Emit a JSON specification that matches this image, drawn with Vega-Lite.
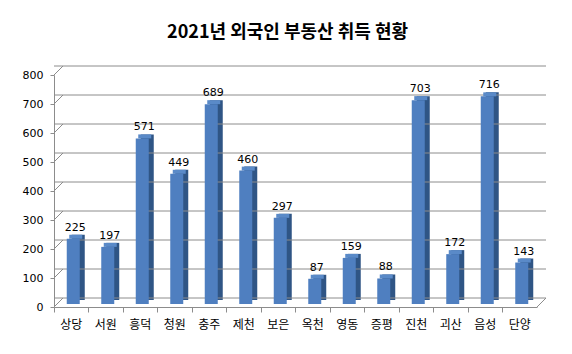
{
  "$schema": "https://vega.github.io/schema/vega-lite/v6.json",
  "width": 483,
  "height": 232,
  "autosize": {"type": "none"},
  "padding": {"left": 54, "top": 75, "right": 35, "bottom": 47},
  "background": "white",
  "config": {
    "view": {"stroke": null},
    "axisX": {
      "title": null,
      "labelAngle": 0,
      "labelFont": "Noto Sans CJK KR",
      "labelFontSize": 12,
      "labelColor": "#000000",
      "labelPadding": 7,
      "bandPosition": 0,
      "tickSize": 5,
      "tickColor": "#8c8c8c",
      "domainColor": "#8c8c8c",
      "grid": false,
      "labelOverlap": false
    },
    "axisY": {
      "title": null,
      "labelFont": "DejaVu Sans",
      "labelFontSize": 11,
      "labelColor": "#000000",
      "labelPadding": 7,
      "tickSize": 4,
      "tickColor": "#8c8c8c",
      "domainColor": "#8c8c8c",
      "grid": false,
      "labelOverlap": false
    }
  },
  "title": {
    "text": "2021년 외국인 부동산 취득 현황",
    "font": "Noto Sans CJK KR",
    "fontSize": 18,
    "fontWeight": "bold",
    "color": "#000000",
    "anchor": "middle",
    "dx": -8,
    "offset": 22
  },
  "datasets": {
    "bars": [
      {"region": "상당", "count": 225},
      {"region": "서원", "count": 197},
      {"region": "흥덕", "count": 571},
      {"region": "청원", "count": 449},
      {"region": "충주", "count": 689},
      {"region": "제천", "count": 460},
      {"region": "보은", "count": 297},
      {"region": "옥천", "count": 87},
      {"region": "영동", "count": 159},
      {"region": "증평", "count": 88},
      {"region": "진천", "count": 703},
      {"region": "괴산", "count": 172},
      {"region": "음성", "count": 716},
      {"region": "단양", "count": 143}
    ],
    "grid": [
      {"v": 0}, {"v": 100}, {"v": 200}, {"v": 300}, {"v": 400},
      {"v": 500}, {"v": 600}, {"v": 700}, {"v": 800}
    ]
  },
  "layer": [
    {
      "data": {"name": "bars"},
      "mark": {"type": "bar", "color": "#2f5585", "width": 13, "xOffset": 7, "yOffset": -7, "y2Offset": -6},
      "encoding": {
        "x": {
          "field": "region",
          "type": "nominal",
          "sort": null,
          "scale": {"paddingInner": 0, "paddingOuter": 0}
        },
        "y": {
          "field": "count",
          "type": "quantitative",
          "scale": {"domain": [0, 800], "nice": false},
          "axis": {"values": [0, 100, 200, 300, 400, 500, 600, 700, 800]}
        }
      }
    },
    {
      "data": {"name": "grid"},
      "mark": {"type": "rule", "color": "#8c8c8c", "strokeWidth": 1, "xOffset": 9, "yOffset": -9},
      "encoding": {
        "y": {"field": "v", "type": "quantitative", "axis": {"values": [0, 100, 200, 300, 400, 500, 600, 700, 800]}}
      }
    },
    {
      "data": {"name": "grid"},
      "mark": {"type": "point", "shape": "M0,0L2,-2", "size": 81, "filled": false, "stroke": "#8c8c8c", "strokeWidth": 1, "opacity": 1},
      "encoding": {
        "x": {"datum": "상당", "type": "nominal", "bandPosition": 0, "sort": null},
        "y": {"field": "v", "type": "quantitative", "axis": {"values": [0, 100, 200, 300, 400, 500, 600, 700, 800]}}
      }
    },
    {
      "data": {"values": [{"v": 0}]},
      "mark": {"type": "point", "shape": "M0,0L2,-2", "size": 81, "filled": false, "stroke": "#8c8c8c", "strokeWidth": 1, "opacity": 1},
      "encoding": {
        "x": {"datum": "단양", "type": "nominal", "bandPosition": 1, "sort": null},
        "y": {"field": "v", "type": "quantitative", "axis": {"values": [0, 100, 200, 300, 400, 500, 600, 700, 800]}}
      }
    },
    {
      "data": {"name": "bars"},
      "mark": {"type": "bar", "color": "#5a8ac8", "width": 13, "xOffset": 4.5, "yOffset": -7, "y2Offset": -3},
      "encoding": {
        "x": {"field": "region", "type": "nominal", "sort": null},
        "y": {"field": "count", "type": "quantitative", "axis": {"values": [0, 100, 200, 300, 400, 500, 600, 700, 800]}},
        "y2": {"field": "count"}
      }
    },
    {
      "data": {"name": "bars"},
      "mark": {"type": "bar", "color": "#4f7fc0", "width": 13, "xOffset": 2, "yOffset": -3, "y2Offset": -3},
      "encoding": {
        "x": {"field": "region", "type": "nominal", "sort": null},
        "y": {"field": "count", "type": "quantitative", "axis": {"values": [0, 100, 200, 300, 400, 500, 600, 700, 800]}}
      }
    },
    {
      "data": {"name": "bars"},
      "mark": {"type": "text", "font": "DejaVu Sans", "fontSize": 11, "color": "#000000", "baseline": "alphabetic", "dx": 4, "dy": -11},
      "encoding": {
        "x": {"field": "region", "type": "nominal", "sort": null},
        "y": {"field": "count", "type": "quantitative", "axis": {"values": [0, 100, 200, 300, 400, 500, 600, 700, 800]}},
        "text": {"field": "count", "type": "quantitative"}
      }
    }
  ]
}
